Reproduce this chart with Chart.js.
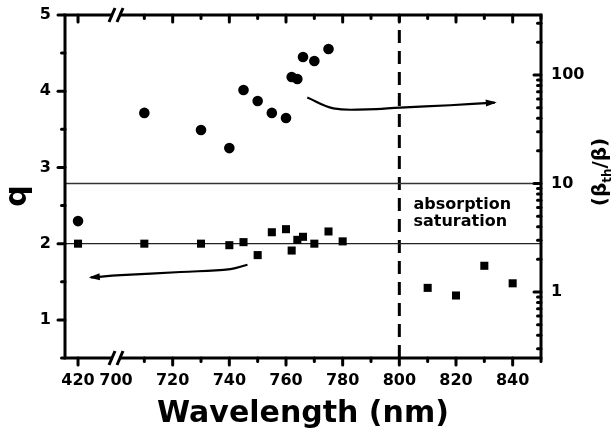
<!DOCTYPE html>
<html>
<head>
<meta charset="utf-8">
<script src="https://cdn.jsdelivr.net/npm/chart.js@4.4.1/dist/chart.umd.min.js"></script>
<style>
  html, body { margin: 0; padding: 0; background: #fff; }
</style>
</head>
<body>
<canvas id="chart" width="614" height="438"></canvas>
<script>
// Data
const circleWavelengths = [420, 710, 730, 740, 745, 750, 755, 760, 762, 764, 766, 770, 775];
const circleRatio = [4.5, 44.7, 31.1, 21.2, 72.8, 57.6, 44.7, 40.1, 95.9, 91.8, 146.6, 134.5, 173.6];

const squareWavelengths = [420, 710, 730, 740, 745, 750, 755, 760, 762, 764, 766, 770, 775, 780, 810, 820, 830, 840];
const squareQ = [2.0, 2.0, 2.0, 1.98, 2.02, 1.85, 2.15, 2.19, 1.91, 2.05, 2.09, 2.0, 2.16, 2.03, 1.42, 1.32, 1.71, 1.48];

// ticks
const xTickWavelengths = [420, 700, 720, 740, 760, 780, 800, 820, 840];
const xMinorWavelengths = [710, 730, 750, 770, 790, 810, 830, 850];
const qTicks = [1, 2, 3, 4, 5];
const qMinorTicks = [0.5, 1.5, 2.5, 3.5, 4.5];
const ratioTicks = [1, 10, 100];

// reference lines
const qLineValue = 2;
const ratioLineValue = 10;
const saturationWavelength = 800;

// hand-drawn arrows, in axis units (x on the broken axis, y in q)
const leftArrowX = [746.4, 740.4, 722.8, 701.7, 691.1];
const leftArrowQ = [1.724, 1.667, 1.628, 1.586, 1.557];
const rightArrowX = [767.5, 776.7, 788.7, 800.3, 817.9, 833.7];
const rightArrowQ = [3.917, 3.776, 3.763, 3.786, 3.816, 3.851];

// axis ranges (x axis is broken: the 420 nm point is shifted next to 700)
const X_MIN = 682, X_MAX = 850, BREAK_AT = 700, BREAK_SHIFT = 266.6;
const Q_MIN = 0.5, Q_MAX = 5;
const R_MIN = 0.2465, R_MAX = 357;

const FONT = '"DejaVu Sans", sans-serif';
const toAxis = w => (w < 600 ? w + BREAK_SHIFT : w);
const pts = (xs, ys, f) => xs.map((x, i) => ({ x: f ? f(x) : x, y: ys[i] }));

const overlayPlugin = {
  id: 'overlay',
  afterDraw(chart) {
    const { ctx, chartArea: a, scales } = chart;
    const x = scales.x, y = scales.y, y2 = scales.y2;
    ctx.save();
    ctx.strokeStyle = '#000';
    ctx.fillStyle = '#000';

    // arrow heads
    [[leftArrowX, leftArrowQ], [rightArrowX, rightArrowQ]].forEach(([xs, qs]) => {
      const n = xs.length;
      const tx = x.getPixelForValue(xs[n - 1]), ty = y.getPixelForValue(qs[n - 1]);
      const px = x.getPixelForValue(xs[n - 2]), py = y.getPixelForValue(qs[n - 2]);
      const ang = Math.atan2(ty - py, tx - px);
      ctx.save();
      ctx.translate(tx, ty);
      ctx.rotate(ang);
      ctx.beginPath();
      ctx.moveTo(2, 0);
      ctx.lineTo(-9, -3.5);
      ctx.lineTo(-9, 3.5);
      ctx.closePath();
      ctx.fill();
      ctx.restore();
    });

    // frame
    ctx.lineWidth = 3;
    ctx.strokeRect(a.left, a.top, a.right - a.left, a.bottom - a.top);

    // tick marks
    ctx.lineCap = 'round';
    const seg = (x1, y1, x2, y2_) => { ctx.beginPath(); ctx.moveTo(x1, y1); ctx.lineTo(x2, y2_); ctx.stroke(); };
    ctx.lineWidth = 3;
    xTickWavelengths.filter(w => w !== BREAK_AT).forEach(w => {
      const p = x.getPixelForValue(toAxis(w));
      seg(p, a.bottom, p, a.bottom + 7);
      seg(p, a.top, p, a.top + 7);
    });
    xMinorWavelengths.forEach(w => {
      const p = x.getPixelForValue(toAxis(w));
      seg(p, a.bottom, p, a.bottom + 3.5);
      seg(p, a.top, p, a.top + 3.5);
    });
    qTicks.forEach(v => { const p = y.getPixelForValue(v); seg(a.left, p, a.left - 7, p); });
    qMinorTicks.forEach(v => { const p = y.getPixelForValue(v); seg(a.left, p, a.left - 3.5, p); });
    ratioTicks.forEach(v => { const p = y2.getPixelForValue(v); seg(a.right, p, a.right - 7, p); });
    [0.1, 1, 10, 100].forEach(d => {
      for (let k = 2; k <= 9; k++) {
        const v = k * d;
        if (v < R_MIN || v > R_MAX) continue;
        const p = y2.getPixelForValue(v);
        seg(a.right, p, a.right - 3.5, p);
      }
    });

    // axis break marks
    const bx = x.getPixelForValue(BREAK_AT);
    [a.top, a.bottom].forEach(by => {
      ctx.fillStyle = '#fff';
      ctx.fillRect(bx - 3, by - 3, 6, 6);
      ctx.lineCap = 'butt';
      ctx.lineWidth = 3;
      seg(bx - 7, by + 7, bx - 1, by - 7);
      seg(bx + 1, by + 7, bx + 7, by - 7);
    });

    // annotation
    ctx.fillStyle = '#000';
    ctx.font = 'bold 16px ' + FONT;
    ctx.textAlign = 'left';
    ctx.textBaseline = 'alphabetic';
    const ax = x.getPixelForValue(805);
    ctx.fillText('absorption', ax, y.getPixelForValue(2.46));
    ctx.fillText('saturation', ax, y.getPixelForValue(2.237));

    // left title q
    ctx.save();
    ctx.translate(26, 196);
    ctx.rotate(-Math.PI / 2);
    ctx.font = 'bold 30px ' + FONT;
    ctx.textAlign = 'center';
    ctx.fillText('q', 0, 0);
    ctx.restore();

    // right title (β_th/β)
    ctx.save();
    ctx.translate(606, 172);
    ctx.rotate(-Math.PI / 2);
    const big = 'bold 20px ' + FONT, small = 'bold 12px ' + FONT;
    const parts = [['(β', big, 0], ['th', small, 5], ['/β)', big, 0]];
    let total = 0;
    parts.forEach(([t, f]) => { ctx.font = f; total += ctx.measureText(t).width; });
    let cx = -total / 2;
    ctx.textAlign = 'left';
    parts.forEach(([t, f, dy]) => {
      ctx.font = f;
      ctx.fillText(t, cx, dy);
      cx += ctx.measureText(t).width;
    });
    ctx.restore();

    ctx.restore();
  }
};

const tickFont = { family: FONT, size: 16, weight: 'bold' };

new Chart(document.getElementById('chart').getContext('2d'), {
  type: 'line',
  data: {
    datasets: [
      {
        data: pts(circleWavelengths, circleRatio, toAxis),
        yAxisID: 'y2',
        showLine: false,
        pointStyle: 'circle',
        pointRadius: 5.3,
        pointBackgroundColor: '#000',
        pointBorderWidth: 0
      },
      {
        data: pts(squareWavelengths, squareQ, toAxis),
        yAxisID: 'y',
        showLine: false,
        pointStyle: 'rect',
        pointRadius: 5.7,
        pointBackgroundColor: '#000',
        pointBorderWidth: 0
      },
      {
        data: [{ x: X_MIN, y: qLineValue }, { x: X_MAX, y: qLineValue }],
        yAxisID: 'y',
        borderColor: '#222',
        borderWidth: 1.3,
        pointRadius: 0
      },
      {
        data: [{ x: X_MIN, y: ratioLineValue }, { x: X_MAX, y: ratioLineValue }],
        yAxisID: 'y2',
        borderColor: '#333',
        borderWidth: 1.5,
        pointRadius: 0
      },
      {
        data: [{ x: saturationWavelength, y: Q_MIN }, { x: saturationWavelength, y: Q_MAX }],
        yAxisID: 'y',
        borderColor: '#000',
        borderWidth: 3,
        borderDash: [13, 8],
        pointRadius: 0
      },
      {
        data: pts(leftArrowX, leftArrowQ),
        yAxisID: 'y',
        borderColor: '#000',
        borderWidth: 2.2,
        tension: 0.4,
        pointRadius: 0
      },
      {
        data: pts(rightArrowX, rightArrowQ),
        yAxisID: 'y',
        borderColor: '#000',
        borderWidth: 2.2,
        tension: 0.4,
        pointRadius: 0
      }
    ]
  },
  options: {
    responsive: false,
    animation: false,
    layout: { padding: { top: 15 } },
    plugins: {
      legend: { display: false },
      tooltip: { enabled: false }
    },
    scales: {
      x: {
        type: 'linear',
        min: X_MIN,
        max: X_MAX,
        afterBuildTicks: s => { s.ticks = xTickWavelengths.map(w => ({ value: toAxis(w) })); },
        afterFit: s => { s.height = 80; s.paddingLeft = 0; s.paddingRight = 0; },
        grid: { display: false, drawTicks: false },
        border: { display: false },
        ticks: {
          font: tickFont,
          color: '#000',
          padding: 13,
          autoSkip: false,
          maxRotation: 0,
          callback: v => (v < BREAK_AT ? '420' : String(Math.round(v)))
        },
        title: {
          display: true,
          text: 'Wavelength (nm)',
          color: '#000',
          font: { family: FONT, size: 30, weight: 'bold' },
          padding: { top: 0, bottom: 6 }
        }
      },
      y: {
        min: Q_MIN,
        max: Q_MAX,
        afterBuildTicks: s => { s.ticks = qTicks.map(v => ({ value: v })); },
        afterFit: s => { s.width = 65; s.paddingTop = 0; s.paddingBottom = 0; },
        grid: { display: false, drawTicks: false },
        border: { display: false },
        ticks: { font: tickFont, color: '#000', padding: 14, callback: v => String(v) }
      },
      y2: {
        type: 'logarithmic',
        position: 'right',
        min: R_MIN,
        max: R_MAX,
        afterBuildTicks: s => { s.ticks = ratioTicks.map(v => ({ value: v })); },
        afterFit: s => { s.width = 73; s.paddingTop = 0; s.paddingBottom = 0; },
        grid: { display: false, drawTicks: false },
        border: { display: false },
        ticks: { font: tickFont, color: '#000', padding: 10, callback: v => String(v) }
      }
    }
  },
  plugins: [overlayPlugin]
});
</script>
</body>
</html>
